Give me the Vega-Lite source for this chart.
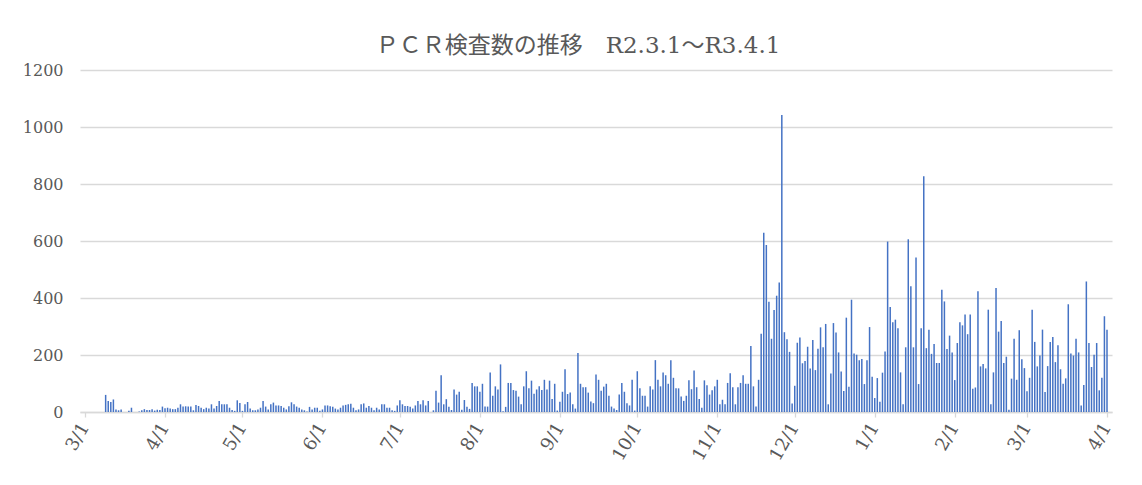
{
"$schema": "https://vega.github.io/schema/vega-lite/v6.json",
"width": 1032,
"height": 342,
"autosize": {"type": "none"},
"padding": {"left": 80, "top": 70, "right": 30, "bottom": 73},
"background": "white",
"title": {"text": "ＰＣＲ検査数の推移　R2.3.1～R3.4.1", "font": "DejaVu Serif, Noto Sans CJK JP", "fontSize": 23, "fontWeight": "normal", "color": "#595959", "offset": 4, "dx": -18},
"data": {"values": [
{"d":"2020-03-01","v":0},{"d":"2020-03-02","v":0},{"d":"2020-03-03","v":0},{"d":"2020-03-04","v":0},{"d":"2020-03-05","v":0},{"d":"2020-03-06","v":0},{"d":"2020-03-07","v":0},{"d":"2020-03-08","v":0},{"d":"2020-03-09","v":60},{"d":"2020-03-10","v":39},{"d":"2020-03-11","v":35},{"d":"2020-03-12","v":44},{"d":"2020-03-13","v":9},{"d":"2020-03-14","v":6},{"d":"2020-03-15","v":9},{"d":"2020-03-16","v":0},{"d":"2020-03-17","v":0},{"d":"2020-03-18","v":4},{"d":"2020-03-19","v":15},{"d":"2020-03-20","v":0},{"d":"2020-03-21","v":0},{"d":"2020-03-22","v":2},{"d":"2020-03-23","v":6},{"d":"2020-03-24","v":10},{"d":"2020-03-25","v":7},{"d":"2020-03-26","v":7},{"d":"2020-03-27","v":10},{"d":"2020-03-28","v":5},{"d":"2020-03-29","v":8},{"d":"2020-03-30","v":7},{"d":"2020-03-31","v":19},
{"d":"2020-04-01","v":13},{"d":"2020-04-02","v":15},{"d":"2020-04-03","v":12},{"d":"2020-04-04","v":10},{"d":"2020-04-05","v":10},{"d":"2020-04-06","v":15},{"d":"2020-04-07","v":27},{"d":"2020-04-08","v":19},{"d":"2020-04-09","v":20},{"d":"2020-04-10","v":19},{"d":"2020-04-11","v":19},{"d":"2020-04-12","v":6},{"d":"2020-04-13","v":25},{"d":"2020-04-14","v":21},{"d":"2020-04-15","v":15},{"d":"2020-04-16","v":10},{"d":"2020-04-17","v":15},{"d":"2020-04-18","v":12},{"d":"2020-04-19","v":27},{"d":"2020-04-20","v":12},{"d":"2020-04-21","v":21},{"d":"2020-04-22","v":39},{"d":"2020-04-23","v":27},{"d":"2020-04-24","v":27},{"d":"2020-04-25","v":27},{"d":"2020-04-26","v":15},{"d":"2020-04-27","v":7},{"d":"2020-04-28","v":4},{"d":"2020-04-29","v":41},{"d":"2020-04-30","v":32},
{"d":"2020-05-01","v":4},{"d":"2020-05-02","v":27},{"d":"2020-05-03","v":35},{"d":"2020-05-04","v":12},{"d":"2020-05-05","v":6},{"d":"2020-05-06","v":6},{"d":"2020-05-07","v":9},{"d":"2020-05-08","v":15},{"d":"2020-05-09","v":39},{"d":"2020-05-10","v":19},{"d":"2020-05-11","v":9},{"d":"2020-05-12","v":27},{"d":"2020-05-13","v":33},{"d":"2020-05-14","v":23},{"d":"2020-05-15","v":23},{"d":"2020-05-16","v":21},{"d":"2020-05-17","v":15},{"d":"2020-05-18","v":9},{"d":"2020-05-19","v":20},{"d":"2020-05-20","v":34},{"d":"2020-05-21","v":27},{"d":"2020-05-22","v":19},{"d":"2020-05-23","v":15},{"d":"2020-05-24","v":9},{"d":"2020-05-25","v":6},{"d":"2020-05-26","v":2},{"d":"2020-05-27","v":18},{"d":"2020-05-28","v":9},{"d":"2020-05-29","v":15},{"d":"2020-05-30","v":15},{"d":"2020-05-31","v":4},
{"d":"2020-06-01","v":9},{"d":"2020-06-02","v":23},{"d":"2020-06-03","v":23},{"d":"2020-06-04","v":20},{"d":"2020-06-05","v":18},{"d":"2020-06-06","v":12},{"d":"2020-06-07","v":9},{"d":"2020-06-08","v":15},{"d":"2020-06-09","v":23},{"d":"2020-06-10","v":25},{"d":"2020-06-11","v":27},{"d":"2020-06-12","v":29},{"d":"2020-06-13","v":15},{"d":"2020-06-14","v":6},{"d":"2020-06-15","v":9},{"d":"2020-06-16","v":27},{"d":"2020-06-17","v":30},{"d":"2020-06-18","v":15},{"d":"2020-06-19","v":21},{"d":"2020-06-20","v":15},{"d":"2020-06-21","v":6},{"d":"2020-06-22","v":15},{"d":"2020-06-23","v":9},{"d":"2020-06-24","v":27},{"d":"2020-06-25","v":27},{"d":"2020-06-26","v":15},{"d":"2020-06-27","v":15},{"d":"2020-06-28","v":6},{"d":"2020-06-29","v":4},{"d":"2020-06-30","v":23},
{"d":"2020-07-01","v":41},{"d":"2020-07-02","v":27},{"d":"2020-07-03","v":21},{"d":"2020-07-04","v":21},{"d":"2020-07-05","v":18},{"d":"2020-07-06","v":12},{"d":"2020-07-07","v":23},{"d":"2020-07-08","v":39},{"d":"2020-07-09","v":27},{"d":"2020-07-10","v":41},{"d":"2020-07-11","v":23},{"d":"2020-07-12","v":39},{"d":"2020-07-13","v":0},{"d":"2020-07-14","v":6},{"d":"2020-07-15","v":75},{"d":"2020-07-16","v":33},{"d":"2020-07-17","v":129},{"d":"2020-07-18","v":27},{"d":"2020-07-19","v":45},{"d":"2020-07-20","v":18},{"d":"2020-07-21","v":7},{"d":"2020-07-22","v":79},{"d":"2020-07-23","v":61},{"d":"2020-07-24","v":71},{"d":"2020-07-25","v":8},{"d":"2020-07-26","v":42},{"d":"2020-07-27","v":18},{"d":"2020-07-28","v":11},{"d":"2020-07-29","v":102},{"d":"2020-07-30","v":90},{"d":"2020-07-31","v":90},
{"d":"2020-08-01","v":71},{"d":"2020-08-02","v":99},{"d":"2020-08-03","v":19},{"d":"2020-08-04","v":19},{"d":"2020-08-05","v":139},{"d":"2020-08-06","v":57},{"d":"2020-08-07","v":90},{"d":"2020-08-08","v":79},{"d":"2020-08-09","v":167},{"d":"2020-08-10","v":3},{"d":"2020-08-11","v":18},{"d":"2020-08-12","v":102},{"d":"2020-08-13","v":102},{"d":"2020-08-14","v":77},{"d":"2020-08-15","v":75},{"d":"2020-08-16","v":54},{"d":"2020-08-17","v":27},{"d":"2020-08-18","v":90},{"d":"2020-08-19","v":143},{"d":"2020-08-20","v":83},{"d":"2020-08-21","v":110},{"d":"2020-08-22","v":64},{"d":"2020-08-23","v":79},{"d":"2020-08-24","v":90},{"d":"2020-08-25","v":77},{"d":"2020-08-26","v":113},{"d":"2020-08-27","v":79},{"d":"2020-08-28","v":110},{"d":"2020-08-29","v":46},{"d":"2020-08-30","v":99},{"d":"2020-08-31","v":5},
{"d":"2020-09-01","v":36},{"d":"2020-09-02","v":71},{"d":"2020-09-03","v":150},{"d":"2020-09-04","v":63},{"d":"2020-09-05","v":68},{"d":"2020-09-06","v":27},{"d":"2020-09-07","v":12},{"d":"2020-09-08","v":207},{"d":"2020-09-09","v":99},{"d":"2020-09-10","v":87},{"d":"2020-09-11","v":87},{"d":"2020-09-12","v":68},{"d":"2020-09-13","v":37},{"d":"2020-09-14","v":31},{"d":"2020-09-15","v":132},{"d":"2020-09-16","v":113},{"d":"2020-09-17","v":75},{"d":"2020-09-18","v":89},{"d":"2020-09-19","v":99},{"d":"2020-09-20","v":57},{"d":"2020-09-21","v":19},{"d":"2020-09-22","v":12},{"d":"2020-09-23","v":7},{"d":"2020-09-24","v":61},{"d":"2020-09-25","v":102},{"d":"2020-09-26","v":71},{"d":"2020-09-27","v":31},{"d":"2020-09-28","v":23},{"d":"2020-09-29","v":113},{"d":"2020-09-30","v":5},
{"d":"2020-10-01","v":143},{"d":"2020-10-02","v":83},{"d":"2020-10-03","v":57},{"d":"2020-10-04","v":57},{"d":"2020-10-05","v":19},{"d":"2020-10-06","v":90},{"d":"2020-10-07","v":79},{"d":"2020-10-08","v":182},{"d":"2020-10-09","v":113},{"d":"2020-10-10","v":90},{"d":"2020-10-11","v":139},{"d":"2020-10-12","v":129},{"d":"2020-10-13","v":99},{"d":"2020-10-14","v":182},{"d":"2020-10-15","v":120},{"d":"2020-10-16","v":83},{"d":"2020-10-17","v":83},{"d":"2020-10-18","v":54},{"d":"2020-10-19","v":39},{"d":"2020-10-20","v":57},{"d":"2020-10-21","v":111},{"d":"2020-10-22","v":80},{"d":"2020-10-23","v":146},{"d":"2020-10-24","v":87},{"d":"2020-10-25","v":46},{"d":"2020-10-26","v":15},{"d":"2020-10-27","v":111},{"d":"2020-10-28","v":94},{"d":"2020-10-29","v":61},{"d":"2020-10-30","v":76},{"d":"2020-10-31","v":90},
{"d":"2020-11-01","v":113},{"d":"2020-11-02","v":27},{"d":"2020-11-03","v":43},{"d":"2020-11-04","v":27},{"d":"2020-11-05","v":102},{"d":"2020-11-06","v":136},{"d":"2020-11-07","v":87},{"d":"2020-11-08","v":27},{"d":"2020-11-09","v":87},{"d":"2020-11-10","v":102},{"d":"2020-11-11","v":129},{"d":"2020-11-12","v":99},{"d":"2020-11-13","v":99},{"d":"2020-11-14","v":232},{"d":"2020-11-15","v":90},{"d":"2020-11-16","v":19},{"d":"2020-11-17","v":113},{"d":"2020-11-18","v":275},{"d":"2020-11-19","v":629},{"d":"2020-11-20","v":586},{"d":"2020-11-21","v":387},{"d":"2020-11-22","v":257},{"d":"2020-11-23","v":358},{"d":"2020-11-24","v":408},{"d":"2020-11-25","v":454},{"d":"2020-11-26","v":1042},{"d":"2020-11-27","v":280},{"d":"2020-11-28","v":255},{"d":"2020-11-29","v":211},{"d":"2020-11-30","v":30},
{"d":"2020-12-01","v":92},{"d":"2020-12-02","v":243},{"d":"2020-12-03","v":261},{"d":"2020-12-04","v":171},{"d":"2020-12-05","v":179},{"d":"2020-12-06","v":229},{"d":"2020-12-07","v":153},{"d":"2020-12-08","v":253},{"d":"2020-12-09","v":147},{"d":"2020-12-10","v":222},{"d":"2020-12-11","v":297},{"d":"2020-12-12","v":227},{"d":"2020-12-13","v":309},{"d":"2020-12-14","v":27},{"d":"2020-12-15","v":135},{"d":"2020-12-16","v":312},{"d":"2020-12-17","v":279},{"d":"2020-12-18","v":209},{"d":"2020-12-19","v":142},{"d":"2020-12-20","v":74},{"d":"2020-12-21","v":331},{"d":"2020-12-22","v":89},{"d":"2020-12-23","v":394},{"d":"2020-12-24","v":205},{"d":"2020-12-25","v":201},{"d":"2020-12-26","v":182},{"d":"2020-12-27","v":186},{"d":"2020-12-28","v":98},{"d":"2020-12-29","v":182},{"d":"2020-12-30","v":298},{"d":"2020-12-31","v":124},
{"d":"2021-01-01","v":49},{"d":"2021-01-02","v":119},{"d":"2021-01-03","v":36},{"d":"2021-01-04","v":138},{"d":"2021-01-05","v":212},{"d":"2021-01-06","v":598},{"d":"2021-01-07","v":368},{"d":"2021-01-08","v":315},{"d":"2021-01-09","v":324},{"d":"2021-01-10","v":294},{"d":"2021-01-11","v":139},{"d":"2021-01-12","v":27},{"d":"2021-01-13","v":227},{"d":"2021-01-14","v":606},{"d":"2021-01-15","v":441},{"d":"2021-01-16","v":227},{"d":"2021-01-17","v":542},{"d":"2021-01-18","v":98},{"d":"2021-01-19","v":294},{"d":"2021-01-20","v":827},{"d":"2021-01-21","v":224},{"d":"2021-01-22","v":289},{"d":"2021-01-23","v":204},{"d":"2021-01-24","v":239},{"d":"2021-01-25","v":172},{"d":"2021-01-26","v":172},{"d":"2021-01-27","v":429},{"d":"2021-01-28","v":388},{"d":"2021-01-29","v":221},{"d":"2021-01-30","v":268},{"d":"2021-01-31","v":209},
{"d":"2021-02-01","v":112},{"d":"2021-02-02","v":242},{"d":"2021-02-03","v":315},{"d":"2021-02-04","v":304},{"d":"2021-02-05","v":342},{"d":"2021-02-06","v":273},{"d":"2021-02-07","v":342},{"d":"2021-02-08","v":82},{"d":"2021-02-09","v":86},{"d":"2021-02-10","v":424},{"d":"2021-02-11","v":160},{"d":"2021-02-12","v":168},{"d":"2021-02-13","v":153},{"d":"2021-02-14","v":359},{"d":"2021-02-15","v":27},{"d":"2021-02-16","v":139},{"d":"2021-02-17","v":435},{"d":"2021-02-18","v":282},{"d":"2021-02-19","v":319},{"d":"2021-02-20","v":172},{"d":"2021-02-21","v":194},{"d":"2021-02-22","v":8},{"d":"2021-02-23","v":117},{"d":"2021-02-24","v":257},{"d":"2021-02-25","v":113},{"d":"2021-02-26","v":287},{"d":"2021-02-27","v":185},{"d":"2021-02-28","v":154},
{"d":"2021-03-01","v":73},{"d":"2021-03-02","v":120},{"d":"2021-03-03","v":359},{"d":"2021-03-04","v":246},{"d":"2021-03-05","v":160},{"d":"2021-03-06","v":198},{"d":"2021-03-07","v":289},{"d":"2021-03-08","v":70},{"d":"2021-03-09","v":161},{"d":"2021-03-10","v":246},{"d":"2021-03-11","v":263},{"d":"2021-03-12","v":175},{"d":"2021-03-13","v":234},{"d":"2021-03-14","v":150},{"d":"2021-03-15","v":99},{"d":"2021-03-16","v":118},{"d":"2021-03-17","v":378},{"d":"2021-03-18","v":205},{"d":"2021-03-19","v":198},{"d":"2021-03-20","v":257},{"d":"2021-03-21","v":209},{"d":"2021-03-22","v":23},{"d":"2021-03-23","v":95},{"d":"2021-03-24","v":458},{"d":"2021-03-25","v":242},{"d":"2021-03-26","v":158},{"d":"2021-03-27","v":201},{"d":"2021-03-28","v":242},{"d":"2021-03-29","v":76},{"d":"2021-03-30","v":120},{"d":"2021-03-31","v":336},
{"d":"2021-04-01","v":289}
]},
"mark": {"type": "bar", "width": 1.5, "color": "#4472C4"},
"encoding": {
"x": {"field": "d", "type": "temporal",
"scale": {"type": "utc", "domain": [{"year":2020,"month":3,"date":1,"utc":true},{"year":2021,"month":4,"date":1,"utc":true}]},
"axis": {"title": null, "grid": false, "format": "%-m/%-d", "labelAngle": -60, "labelFont": "DejaVu Serif", "labelFontSize": 18, "labelColor": "#595959", "labelPadding": 7, "labelOverlap": false, "labelFlush": false, "domainColor": "#d9d9d9", "domainWidth": 1.3, "tickColor": "#d9d9d9", "tickSize": 5, "tickWidth": 1.3,
"values": [{"year":2020,"month":3,"date":1,"utc":true},{"year":2020,"month":4,"date":1,"utc":true},{"year":2020,"month":5,"date":1,"utc":true},{"year":2020,"month":6,"date":1,"utc":true},{"year":2020,"month":7,"date":1,"utc":true},{"year":2020,"month":8,"date":1,"utc":true},{"year":2020,"month":9,"date":1,"utc":true},{"year":2020,"month":10,"date":1,"utc":true},{"year":2020,"month":11,"date":1,"utc":true},{"year":2020,"month":12,"date":1,"utc":true},{"year":2021,"month":1,"date":1,"utc":true},{"year":2021,"month":2,"date":1,"utc":true},{"year":2021,"month":3,"date":1,"utc":true},{"year":2021,"month":4,"date":1,"utc":true}]}},
"y": {"field": "v", "type": "quantitative",
"scale": {"domain": [0, 1200]},
"axis": {"title": null, "values": [0,200,400,600,800,1000,1200], "format": "d", "grid": true, "gridColor": "#d9d9d9", "gridWidth": 1.3, "domain": false, "ticks": false, "labelPadding": 17, "labelFont": "DejaVu Serif", "labelFontSize": 16, "labelColor": "#595959"}}
},
"config": {"view": {"stroke": null}}
}
